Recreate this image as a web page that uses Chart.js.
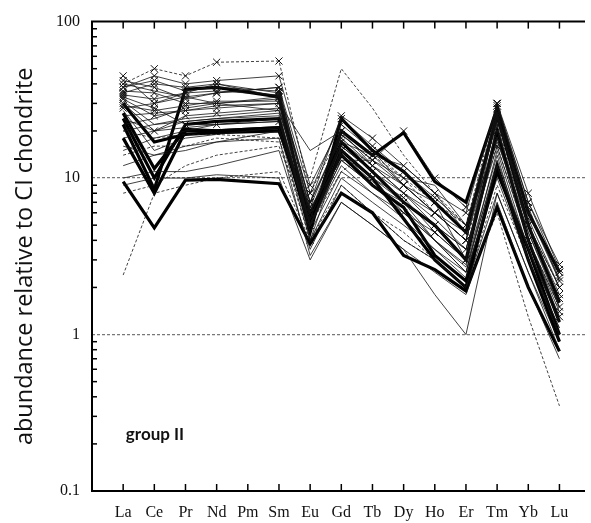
<!DOCTYPE html>
<html><head><meta charset="utf-8">
<script src="https://cdn.jsdelivr.net/npm/chart.js@4/dist/chart.umd.min.js"></script>
<style>html,body{margin:0;padding:0;background:#fff;}#wrap{width:591px;height:523px;}</style>
</head><body><div id="wrap"><canvas id="c" width="591" height="523"></canvas></div>
<script>
// Categories (CI-normalised REE)
const elements = ['La','Ce','Pr','Nd','Pm','Sm','Eu','Gd','Tb','Dy','Ho','Er','Tm','Yb','Lu'];
const yTickValues = [0.1, 1, 10, 100];
const yTickLabels = ['0.1', '1', '10', '100'];
const panelLabel = 'group II';
const yTitle = 'abundance relative to CI chondrite';

// Bold samples
const thickA = [9.5, 4.8, 9.7, 9.8, null, 9.2, 3.8, 8, 6, 3.2, 2.6, 1.9, 6.5, 2.0, 0.78];
const thickB = [22, 8.5, 37, 38, null, 33, 5, 20, 14, 19.5, 9.5, 7, 28, 6, 2.5];
const thickC = [26, 11.5, 20.5, 20, null, 21, 5.5, 17, 11, 7, 5, 3, 20, 4, 1.2];
const thickD = [30, 17, 19, 19.5, null, 20, 6, 14, 9, 6.5, 3.2, 2.2, 11, 3.5, 1.0];
const thickE = [24, 10, 22, 23, null, 24, 4.5, 24, 15, 11, 7, 4.5, 25, 5, 1.6];
const thickF = [18, 8, 20, 20, null, 21, 5, 15, 10, 5.5, 3.0, 2.0, 12, 3, 0.9];

// Thin samples
const s01 = [35, 40, 38, 40, null, 35, 7, 18, 12, 8, 6, 4, 25, 5, 2];
const s02 = [40, 50, 45, 55, null, 56, 8, 20, 14, 10, 7, 5, 30, 6, 2.5];
const s03 = [28, 30, 33, 35, null, 38, 6, 16, 11, 7, 5, 3, 22, 4, 1.5];
const s04 = [32, 25, 27, 28, null, 30, 5, 14, 10, 6, 4.5, 3, 18, 4, 1.3];
const s05 = [20, 22, 24, 25, null, 27, 6.5, 13, 9, 7, 4, 2.5, 15, 3.5, 1.2];
const s06 = [15, 18, 20, 22, null, 24, 5, 12, 8, 6, 4, 2.8, 14, 3, 1.1];
const s07 = [38, 45, 40, 42, null, 45, 9, 22, 15, 9, 6, 4.5, 28, 6.5, 2.2];
const s08 = [45, 30, 35, 40, null, 33, 7, 25, 18, 12, 8, 6, 30, 7, 2.8];
const s09 = [12, 14, 15, 17, null, 20, 4, 10, 7, 5, 3.5, 2.5, 10, 3, 1.0];
const s10 = [10, 11, 11, 12, null, 15, 3.5, 9, 6, 4, 3, 2, 8, 2.5, 0.9];
const s11 = [9, 10, 10, 10.5, null, 10, 3, 7, 5, 3.5, 2.5, 1.8, 7, 2, 0.7];
const s12 = [2.4, 8, 9, 10, null, 11, 4, 8, 6, 4, 3, 2, 9, 3, 1.0];
const s13 = [33, 28, 22, 22, null, 23, 5, 15, 10, 7, 5, 3.5, 16, 4, 1.4];
const s14 = [30, 20, 25, 26, null, 28, 6, 19, 13, 9, 6, 4, 20, 5, 1.8];
const s15 = [27, 15, 18, 19, null, 21, 5, 13, 9, 6, 4, 2.5, 13, 3.5, 1.2];
const s16 = [36, 35, 30, 30, null, 33, 6.5, 20, 14, 9, 6, 4, 24, 5.5, 2];
const s17 = [42, 38, 32, 35, null, 38, 8, 24, 16, 11, 7.5, 5, 26, 6, 2.3];
const s18 = [22, 24, 28, 30, null, 32, 5, 16, 11, 8, 5, 3.5, 18, 4.5, 1.6];
const s19 = [18, 20, 23, 24, null, 25, 4.5, 11, 8, 5.5, 3.5, 2.3, 12, 3, 1.1];
const s20 = [25, 26, 27, 29, null, 30, 15, 20, 12, 8, 5.5, 3.5, 18, 4.5, 1.5];
const s21 = [14, 16, 16, 18, null, 17, 10, 50, 28, 14, 8, 5, 22, 5, 2];
const s22 = [8, 9, 12, 14, null, 16, 5, 11, 15, 10, 6, 4, 16, 4, 1.5];
const s23 = [34, 32, 35, 36, null, 34, 5.5, 17, 12, 9, 7, 3, 30, 8, 2.6];
const s24 = [29, 27, 29, 31, null, 31, 4, 15, 10, 7.5, 4.5, 3, 26, 5, 1.7];
const s25 = [31, 22, 23, 24, null, 26, 5, 14, 9.5, 6.5, 4, 2.7, 12, 3.5, 1.3];
const s26 = [20, 18, 19, 19, null, 18, 4, 9, 6, 4.5, 3, 2, 6, 1.3, 0.35];
const s27 = [16, 14, 16, 17, null, 18, 3.2, 7, 5, 3.5, 1.8, 1.0, 8, 2.5, 0.8];
const s28 = [38, 42, 36, 38, null, 36, 7, 19, 13, 20, 10, 6.5, 29, 7, 2.5];
const s29 = [24, 20, 21, 22, null, 23, 5, 13, 13, 10, 9, 5, 17, 5, 1.7];
const s30 = [40, 36, 33, 30, null, 27, 6, 17, 14, 12, 8, 4.5, 23, 6, 2.2];

const boldSeries = [thickA, thickB, thickC, thickD, thickE, thickF];
const thinSeries = [s01,s02,s03,s04,s05,s06,s07,s08,s09,s10,s11,s12,s13,s14,s15,
                    s16,s17,s18,s19,s20,s21,s22,s23,s24,s25,s26,s27,s28,s29,s30];
const markedThin = [0,1,2,3,6,7,12,13,15,16,22,23,27];
const dashedThin = [1,11,20,21,25];

function toPoints(arr){
  const pts=[]; arr.forEach((v,i)=>{ if(v!==null) pts.push({x:i,y:v}); }); return pts;
}
const datasets = [];
thinSeries.forEach((arr,k)=>{
  const marked = markedThin.includes(k);
  datasets.push({data:toPoints(arr), borderColor:'#111', borderWidth:0.8,
    borderDash: dashedThin.includes(k)?[3,2]:[],
    pointStyle:'crossRot', pointRadius: marked?5:0, pointBorderWidth:1,
    pointBorderColor:'#111', pointBackgroundColor:'#111', tension:0});
});
boldSeries.forEach(arr=>{
  datasets.push({data:toPoints(arr), borderColor:'#000', borderWidth:3.2,
    pointStyle:'crossRot', pointRadius:0, tension:0});
});

const frame = {
  id:'frame',
  afterDraw(chart){
    const {ctx, chartArea:a, scales:{x,y}} = chart;
    const line=(x1,y1,x2,y2)=>{ctx.beginPath();ctx.moveTo(x1,y1);ctx.lineTo(x2,y2);ctx.stroke();};
    ctx.save();
    ctx.strokeStyle='#000'; ctx.lineWidth=2;
    ctx.beginPath(); ctx.moveTo(a.right,a.top); ctx.lineTo(a.left,a.top); ctx.lineTo(a.left,a.bottom); ctx.lineTo(a.right,a.bottom); ctx.stroke();
    ctx.lineWidth=1.5;
    elements.forEach((e,i)=>{ const px=x.getPixelForValue(i); line(px,a.top,px,a.top+7); line(px,a.bottom,px,a.bottom-7); });
    [0.1,1,10].forEach(d=>{ for(let k=2;k<=9;k++){ const py=y.getPixelForValue(k*d); line(a.left,py,a.left+5,py);} });
    ctx.fillStyle='#111'; ctx.font='bold 17px Lato'; ctx.textAlign='center'; ctx.textBaseline='middle';
    ctx.fillText(panelLabel, 155, 435);
    ctx.restore();
  }
};

new Chart(document.getElementById('c'), {
  type:'line',
  data:{datasets},
  plugins:[frame],
  options:{
    responsive:false, animation:false, events:[],
    layout:{padding:{top:19,right:0,left:0,bottom:0}},
    plugins:{legend:{display:false}, tooltip:{enabled:false}},
    scales:{
      x:{type:'linear', min:-1, max:14.82,
        afterBuildTicks:s=>{ s.ticks = elements.map((_,i)=>({value:i})); },
        afterFit:s=>{ s.height=32; },
        grid:{drawOnChartArea:false, drawTicks:false}, border:{display:false},
        ticks:{autoSkip:false, maxRotation:0, padding:12, color:'#111',
          font:{family:'Liberation Serif', size:16},
          callback:(v)=>elements[v]}
      },
      y:{type:'logarithmic', min:0.1, max:100,
        afterBuildTicks:s=>{ s.ticks = yTickValues.map(v=>({value:v})); },
        afterFit:s=>{ s.width=92; },
        grid:{drawTicks:false, lineWidth:1.2,
          color:c=>(c.tick && (c.tick.value===1||c.tick.value===10))?'#777':'rgba(0,0,0,0)'},
        border:{display:false, dash:[3,2]},
        ticks:{padding:12, color:'#111', font:{family:'Liberation Serif', size:16},
          callback:(v,i)=>yTickLabels[i]},
        title:{display:true, text:yTitle, color:'#111', font:{family:'Open Sans', size:23.5}, padding:{top:11,bottom:0}}
      }
    }
  }
});
</script></body></html>
